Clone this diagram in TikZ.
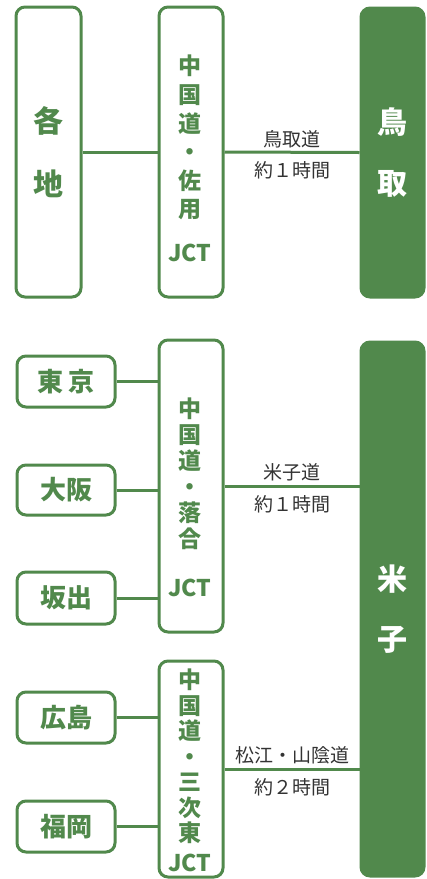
\documentclass[tikz,border=0pt]{standalone}
\usepackage{fontspec}
\newfontfamily\jpfont{Noto Sans CJK JP}
\definecolor{roadgreen}{RGB}{81,137,76}
\definecolor{labelgray}{RGB}{51,51,51}

\begin{document}
\begin{tikzpicture}[x=1pt, y=-1pt,
	place/.style={rectangle, draw=roadgreen, line width=3pt, fill=white, rounded corners=9pt, anchor=north west, inner sep=0pt},
	goal/.style={place, fill=roadgreen},
	placetext/.style={align=center, inner sep=0pt, text=roadgreen, font=\jpfont\bfseries\fontsize{26}{30}\selectfont},
	bigtext/.style={align=center, inner sep=0pt, text=roadgreen, font=\jpfont\bfseries\fontsize{30}{#1}\selectfont},
	jcttext/.style={align=center, inner sep=0pt, anchor=north, text=roadgreen, font=\jpfont\bfseries\fontsize{23}{#1}\selectfont},
	road/.style={draw=roadgreen, line width=3pt},
	roadup/.style={above=3pt, inner sep=0pt, text=labelgray, font=\jpfont\fontsize{19}{19}\selectfont},
	roaddown/.style={below=8pt, inner sep=0pt, text=labelgray, font=\jpfont\fontsize{19}{19}\selectfont}]

\useasboundingbox (0,0) rectangle (427,879);
%%\draw[gray, very thin, step=50] (0,0) grid (427,879);

%% Tottori
\node at (14.5,5.5) [place, minimum width=65, minimum height=290] (kakuchi) {};
\node at (kakuchi.center) [bigtext=63] {各\\地};

\node at (157.5,5.5) [place, minimum width=64, minimum height=290] (sayo) {};
\node at (190,55) [jcttext=28.6] (sayotext) {中\\国\\道\\・\\佐\\用\\[15pt]JCT};

\node at (359.5,6.5) [goal, minimum width=63, minimum height=289] (tottori) {};
\node at (tottori.center) [bigtext=61, text=white] {鳥\\取};

\draw[road] (kakuchi.east) -- (sayo.west);
\draw[road] (sayo.east) -- node[roadup] {鳥取道} node[roaddown] {約１時間} (tottori.west);

%% Yonago
\node at (15.5,354.5) [place, minimum width=98, minimum height=51] (tokyo) {};
\node at (tokyo.center) [placetext] {東 京};
\node at (15.5,463.5) [place, minimum width=98, minimum height=50] (osaka) {};
\node at (osaka.center) [placetext] {大阪};
\node at (15.5,570.5) [place, minimum width=98, minimum height=52] (sakaide) {};
\node at (sakaide.center) [placetext] {坂出};

\node at (157.5,338.5) [place, minimum width=64, minimum height=292] (ochiai) {};
\node at (190,398) [jcttext=26] (ochiaitext) {中\\国\\道\\・\\落\\合\\[23pt]JCT};

\node at (359.5,340.5) [goal, minimum width=63, minimum height=534] (yonago) {};
\node at (yonago.center) [bigtext=60, text=white] {米\\子};

\node at (15.5,690.5) [place, minimum width=98, minimum height=51] (hiroshima) {};
\node at (hiroshima.center) [placetext] {広島};
\node at (15.5,799.5) [place, minimum width=98, minimum height=51] (fukuoka) {};
\node at (fukuoka.center) [placetext] {福岡};

\node at (157.5,659.5) [place, minimum width=64, minimum height=216] (miyoshi) {};
\node at (190,669) [jcttext=25.5] (miyoshitext) {中\\国\\道\\・\\三\\次\\東\\[4.5pt]JCT};

\draw[road] (tokyo.east) -- (tokyo.east -| ochiai.west);
\draw[road] (osaka.east) -- (osaka.east -| ochiai.west);
\draw[road] (sakaide.east) -- (sakaide.east -| ochiai.west);
\draw[road] (ochiai.east) -- node[roadup] {米子道} node[roaddown] {約１時間} (ochiai.east -| yonago.west);

\draw[road] (hiroshima.east) -- (hiroshima.east -| miyoshi.west);
\draw[road] (fukuoka.east) -- (fukuoka.east -| miyoshi.west);
\draw[road] (miyoshi.east) -- node[roadup] {松江・山陰道} node[roaddown] {約２時間} (miyoshi.east -| yonago.west);

\end{tikzpicture}
\end{document}
